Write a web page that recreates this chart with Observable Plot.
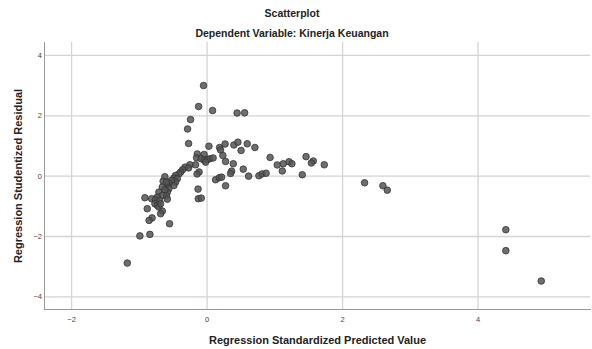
<!DOCTYPE html>
<html><head><meta charset="utf-8">
<script src="https://cdn.jsdelivr.net/npm/d3@7"></script>
<script src="https://cdn.jsdelivr.net/npm/@observablehq/plot@0.6"></script>
<style>
body{margin:0;background:#fff;font-family:"Liberation Sans",Arial,sans-serif;}
#wrap{width:592px;height:349px;overflow:hidden}
#t1{height:24px;padding-top:1px;line-height:24px;text-align:center;font-weight:bold;font-size:10.5px;color:#222;width:584px}
#t2{height:17px;line-height:17px;text-align:center;font-weight:bold;font-size:10.5px;color:#222;width:584px}
#chart svg{display:block}
</style></head>
<body><div id="wrap">
<div id="t1">Scatterplot</div>
<div id="t2">Dependent Variable: Kinerja Keuangan</div>
<div id="chart"></div>
</div>
<script>
const xLabel = "Regression Standardized Predicted Value";
const yLabel = "Regression Studentized Residual";
const xTicks = [-2, 0, 2, 4];
const yTicks = [-4, -2, 0, 2, 4];
const xDomain = [-2.40, 5.66];
const yDomain = [-4.42, 4.43];
// standardized predicted values
const predicted = [
 -0.052,-0.125,0.081,0.443,0.554,-0.244,-0.288,-0.273,0.027,0.185,
 0.199,0.266,0.396,0.455,0.593,0.502,0.706,-0.145,-0.044,-0.155,
 -0.089,-0.044,0.007,0.041,0.089,-0.022,0.233,0.273,0.387,-0.170,
 -0.254,-0.325,-0.273,0.534,0.362,0.347,0.613,0.765,0.812,0.871,
 0.930,1.036,1.125,1.210,1.252,1.110,1.461,1.568,1.539,1.730,
 1.405,0.125,0.180,0.214,0.273,-0.362,-0.391,-0.416,-0.118,-0.148,
 -0.465,-0.490,-0.440,-0.465,-0.490,-0.528,-0.564,-0.587,-0.564,-0.587,
 -0.623,-0.649,-0.602,-0.661,-0.623,-0.711,-0.661,-0.598,-0.735,-0.587,
 -0.918,-0.819,-0.760,-0.701,-0.770,-0.735,-0.711,-0.686,-0.883,-0.661,
 -0.686,-0.812,-0.856,-0.554,-0.992,-0.844,-1.178,-0.133,-0.130,-0.086,
 2.325,2.595,2.660,4.410,4.410,4.933
];
// studentized residuals
const residual = [
 3.003,2.308,2.175,2.093,2.099,1.877,1.563,1.083,0.993,0.950,
 0.868,1.066,1.033,1.126,1.073,0.851,0.950,0.735,0.719,0.609,
 0.576,0.536,0.553,0.576,0.603,0.464,0.685,0.487,0.411,0.377,
 0.377,0.298,0.272,0.232,0.166,0.089,0.000,0.013,0.073,0.096,
 0.619,0.371,0.411,0.477,0.411,0.172,0.646,0.503,0.437,0.377,
 0.046,-0.119,-0.053,-0.033,-0.318,0.212,0.132,0.073,0.139,0.073,
 0.023,-0.066,-0.086,-0.199,-0.308,-0.142,-0.232,-0.308,-0.417,-0.530,
 -0.020,-0.166,-0.199,-0.364,-0.450,-0.530,-0.639,-0.656,-0.695,-0.762,
 -0.715,-0.748,-0.781,-0.805,-0.914,-0.970,-1.026,-0.914,-1.079,-1.159,
 -1.245,-1.384,-1.467,-1.576,-1.980,-1.930,-2.881,-0.430,-0.748,-0.728,
 -0.219,-0.318,-0.464,-1.775,-2.470,-3.477
];
const data = predicted.map((x, i) => ({x, y: residual[i]}));

const chart = Plot.plot({
  width: 592,
  height: 307,
  marginTop: 0,
  marginBottom: 40,
  marginLeft: 44,
  marginRight: 2,
  style: {fontFamily: '"Liberation Sans", Arial, sans-serif', background: "#fff"},
  x: {domain: xDomain},
  y: {domain: yDomain},
  marks: [
    Plot.gridX(xTicks, {stroke: "#d4d4d4", strokeOpacity: 1, strokeWidth: 1.3}),
    Plot.gridY(yTicks, {stroke: "#d4d4d4", strokeOpacity: 1, strokeWidth: 1.3}),
    Plot.frame({anchor: "left", stroke: "#999"}),
    Plot.frame({anchor: "bottom", stroke: "#999"}),
    Plot.axisX(xTicks, {tickSize: 0, tickPadding: 7, fontSize: 7.5, fill: "#444",
      label: xLabel, labelAnchor: "center", labelOffset: 34, labelArrow: "none"}),
    Plot.axisY(yTicks, {tickSize: 0, tickPadding: 2.5, fontSize: 7.5, fill: "#444",
      label: yLabel, labelAnchor: "center", labelOffset: 30, labelArrow: "none"}),
    Plot.dot(data, {x: "x", y: "y", r: 3.3, fill: "#555", fillOpacity: 0.85, stroke: "#333", strokeWidth: 0.8})
  ]
});
document.getElementById("chart").appendChild(chart);
// bold axis titles
chart.querySelectorAll("g[aria-label='x-axis label'] text, g[aria-label='y-axis label'] text").forEach(t => {
  t.style.fontWeight = "bold"; t.style.fontSize = "11px"; t.style.fill = "#222";
});
</script>
</body></html>
